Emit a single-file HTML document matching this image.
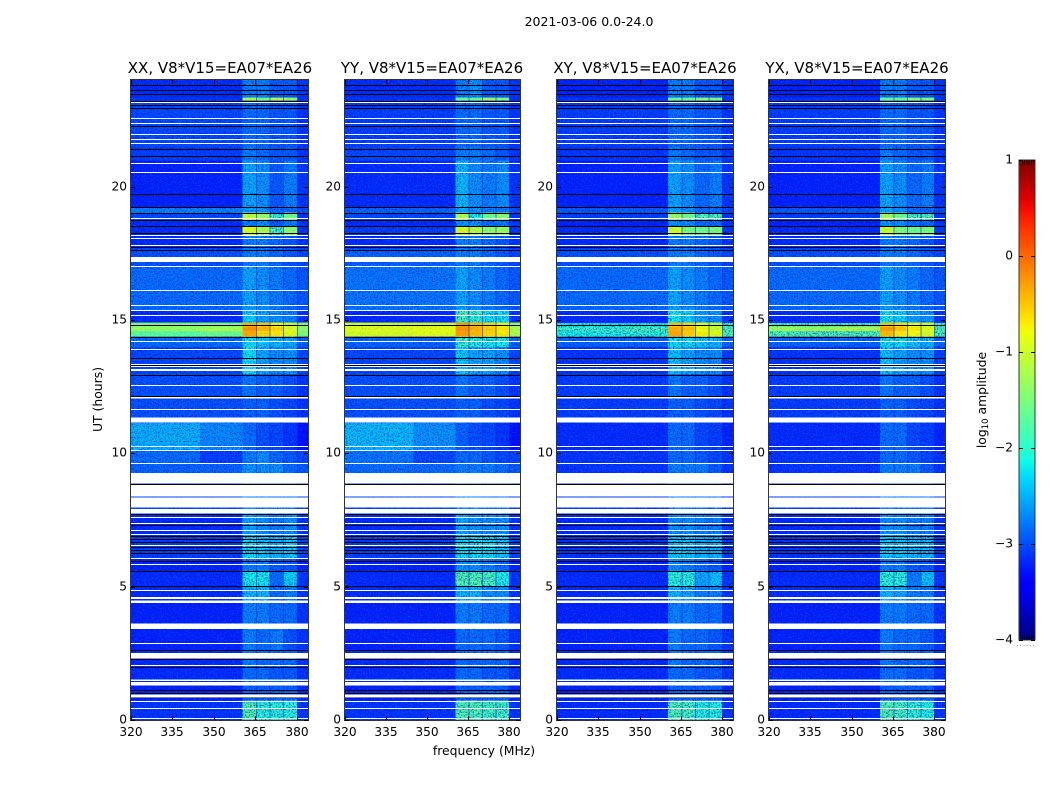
<!DOCTYPE html>
<html>
<head>
<meta charset="utf-8">
<title>2021-03-06 amplitude waterfall</title>
<style>
html,body{margin:0;padding:0;background:#fff;width:1050px;height:800px;overflow:hidden}
svg{display:block}
text{font-family:"DejaVu Sans","Liberation Sans",sans-serif;fill:#000}
</style>
</head>
<body>
<svg id="chart" width="1050" height="800" viewBox="0 0 1050 800" xmlns="http://www.w3.org/2000/svg" shape-rendering="crispEdges">
  <defs>
    <filter id="grain-light" x="0" y="0" width="100%" height="100%" color-interpolation-filters="sRGB">
      <feTurbulence type="fractalNoise" baseFrequency="0.75" numOctaves="1" seed="4"/>
      <feColorMatrix type="matrix" values="0 0 0 0 0  0 0 0 0 0.6  0 0 0 0 1  5 0 0 0 -2.7"/>
    </filter>
    <filter id="grain-dark" x="0" y="0" width="100%" height="100%" color-interpolation-filters="sRGB">
      <feTurbulence type="fractalNoise" baseFrequency="0.75" numOctaves="1" seed="11"/>
      <feColorMatrix type="matrix" values="0 0 0 0 0  0 0 0 0 0  0 0 0 0 0.8  5 0 0 0 -2.4"/>
    </filter>
    <linearGradient id="jet-gradient" x1="0" y1="1" x2="0" y2="0"></linearGradient>
  </defs>
  <text x="589" y="26" font-size="12.5" text-anchor="middle">2021-03-06 0.0-24.0</text>
  <text x="220" y="73" font-size="15" text-anchor="middle">XX, V8*V15=EA07*EA26</text>
  <text x="432" y="73" font-size="15" text-anchor="middle">YY, V8*V15=EA07*EA26</text>
  <text x="645" y="73" font-size="15" text-anchor="middle">XY, V8*V15=EA07*EA26</text>
  <text x="857" y="73" font-size="15" text-anchor="middle">YX, V8*V15=EA07*EA26</text>
  <text x="484" y="755" font-size="12.4" text-anchor="middle">frequency (MHz)</text>
  <text transform="translate(102,399.5) rotate(-90)" font-size="12.4" text-anchor="middle">UT (hours)</text>
  <text transform="translate(986,400) rotate(-90)" font-size="12.4" text-anchor="middle">log<tspan font-size="8.5" dy="2">10</tspan><tspan dy="-2"> amplitude</tspan></text>
  <g id="panels"></g>
  <g id="colorbar"></g>
</svg>
<script>
// ---- axis data ----
var freqTicks = [320, 335, 350, 365, 380];
var utTicks = [0, 5, 10, 15, 20];
var colorTicks = [1, 0, -1, -2, -3, -4];
var colorTickLabels = ['1', '0', '\u22121', '\u22122', '\u22123', '\u22124'];
// frequency columns (MHz) and UT rows (hours) of the coarse amplitude grid
var freqEdges = [320, 345, 360.4, 365.2, 370, 375, 380, 384];
var utEdges = [0,.75,1.3,2,2.6,3.4,4.4,5,5.6,6.1,6.9,7.7,9.26,9.65,10.14,11.16,12.1,13,14,14.4,14.6,14.75,14.9,15.4,17,17.7,18.18,18.53,18.74,19.03,19.24,21,21.5,23.25,23.35,24];
var channelGaps = [365.2, 370.1, 375, 380];
// flagged data (white) and very low samples (black), UT hours
var flagLines = [23.17,22.56,22.39,21.97,21.77,21.64,20.89,20.56,18.81,18.18,18.06,17.80,17.02,16.14,15.56,15.37,15.20,14.20,13.93,13.34,13.26,12.58,11.68,10.29,10.14,9.65,7.61,7.40,7.11,6.96,6.57,6.07,5.86,4.86,2.90,2.05,.73,.44,.08];
var flagBandStarts = [17.17,13.08,12.05,11.16,8.86,8.39,7.96,7.75,4.53,4.38,3.41,2.31,1.46,1.29,.84];
var flagBandEnds = [17.37,13.16,12.12,11.35,9.26,8.82,8.34,7.91,4.61,4.48,3.61,2.51,1.52,1.43,.95];
var lowLines = [23.83,23.62,23.46,23.21,23.06,22.95,22.28,21.40,21.14,19.73,19.24,19.03,18.74,18.53,18.25,17.73,17.62,15.18,14.80,14.36,13.59,13.30,12.95,12.15,8.84,7.93,7.74,7.71,7.30,6.89,6.77,6.67,6.47,6.36,6.25,5.98,5.58,5.01,2.61,2.30,1.98,1.11,1.01,.86];

// ---- series values: log10 amplitude, one row per UT interval, one entry per freq column ----
var heatXX = [
[-3.1,-3.1,-1.75,-2.0,-2.0,-2.0,-3.1],[-3.2,-3.2,-2.85,-2.85,-2.85,-2.85,-3.15],[-3.15,-3.15,-2.8,-2.8,-2.9,-2.9,-3.1],
[-3.15,-3.15,-2.7,-2.8,-2.8,-2.8,-3.1],[-3.2,-3.2,-2.7,-2.8,-2.7,-2.95,-3.1],[-3.2,-3.2,-2.7,-2.7,-2.8,-2.8,-3.1],
[-3.15,-3.15,-2.4,-2.4,-2.8,-2.7,-3.1],[-3.15,-3.15,-2.15,-2.15,-2.8,-2.25,-3.1],[-3.2,-3.2,-2.7,-2.7,-2.9,-2.9,-3.2],
[-3.05,-3.05,-2.2,-2.3,-2.4,-2.3,-3.0],[-3.15,-3.15,-2.5,-2.6,-2.7,-2.6,-3.1],[-3.0,-3.0,-2.6,-2.7,-2.7,-2.7,-3.0],
[-2.85,-2.85,-2.6,-2.6,-2.6,-2.8,-2.9],[-2.8,-3.05,-2.7,-2.6,-2.8,-2.9,-3.0],[-2.45,-2.65,-2.8,-2.95,-3.0,-3.1,-3.3],
[-2.95,-2.95,-2.85,-2.85,-2.95,-3.0,-3.1],[-2.95,-2.95,-2.75,-2.85,-2.85,-2.95,-3.1],[-3.0,-3.0,-2.2,-2.5,-2.6,-2.6,-3.0],
[-2.8,-2.8,-2.2,-2.3,-2.4,-2.5,-2.85],[-1.7,-1.6,-0.35,-0.6,-0.7,-0.9,-1.5],[-1.3,-1.2,-0.25,-0.45,-0.6,-0.9,-1.4],
[-1.5,-1.5,-0.4,-0.5,-0.75,-1.0,-1.4],[-3.15,-3.15,-2.25,-2.5,-2.6,-2.7,-3.1],[-2.8,-2.8,-2.5,-2.6,-2.7,-2.8,-2.9],
[-2.95,-2.95,-2.7,-2.7,-2.8,-2.9,-3.0],[-3.15,-3.15,-2.7,-2.7,-2.8,-2.9,-3.1],[-3.15,-3.15,-0.95,-1.2,-1.8,-1.4,-3.1],
[-3.15,-3.15,-2.7,-2.6,-2.9,-2.7,-3.1],[-3.0,-3.0,-1.1,-1.3,-1.9,-1.55,-3.1],[-2.7,-2.7,-2.5,-2.6,-2.8,-2.8,-2.95],
[-3.2,-3.2,-2.5,-2.6,-2.9,-2.7,-3.1],[-3.05,-3.05,-2.7,-2.8,-2.9,-2.9,-3.1],[-3.0,-3.0,-2.8,-2.8,-2.9,-2.9,-3.1],
[-3.1,-3.1,-1.2,-1.5,-1.1,-1.3,-3.1],[-3.15,-3.15,-2.7,-2.7,-2.9,-2.9,-3.1]];
var heatYY = [
[-3.1,-3.1,-1.75,-1.75,-1.85,-1.85,-3.1],[-3.2,-3.2,-2.85,-2.85,-2.85,-2.85,-3.15],[-3.15,-3.15,-2.8,-2.8,-2.9,-2.9,-3.1],
[-3.15,-3.15,-2.8,-2.8,-2.8,-2.8,-3.1],[-3.2,-3.2,-2.8,-2.8,-2.8,-2.9,-3.1],[-3.2,-3.2,-2.7,-2.7,-2.8,-2.8,-3.1],
[-3.15,-3.15,-2.4,-2.4,-2.6,-2.6,-3.1],[-3.15,-3.15,-1.75,-1.75,-1.8,-2.1,-3.1],[-3.2,-3.2,-2.6,-2.6,-2.7,-2.8,-3.2],
[-3.05,-3.05,-2.2,-2.2,-2.2,-2.3,-3.0],[-3.15,-3.15,-2.5,-2.6,-2.6,-2.6,-3.1],[-3.0,-3.0,-2.6,-2.6,-2.7,-2.7,-3.0],
[-2.8,-2.8,-2.7,-2.7,-2.7,-2.8,-2.9],[-2.75,-3.0,-2.8,-2.8,-2.9,-3.0,-3.0],[-2.4,-2.6,-2.85,-2.95,-3.0,-3.1,-3.3],
[-2.95,-2.95,-2.85,-2.85,-2.95,-3.0,-3.1],[-2.95,-2.95,-2.75,-2.85,-2.85,-2.95,-3.1],[-3.0,-3.0,-2.3,-2.5,-2.5,-2.6,-3.0],
[-2.85,-2.85,-1.9,-2.05,-2.15,-2.15,-2.85],[-0.95,-0.9,-0.3,-0.45,-0.6,-0.7,-1.2],[-0.9,-0.85,-0.25,-0.4,-0.55,-0.7,-1.2],
[-0.95,-0.95,-0.3,-0.45,-0.6,-0.75,-1.3],[-3.15,-3.15,-1.8,-1.95,-2.2,-2.2,-3.1],[-2.75,-2.75,-2.5,-2.6,-2.7,-2.8,-2.9],
[-2.85,-2.85,-2.7,-2.7,-2.8,-2.9,-3.0],[-3.15,-3.15,-2.7,-2.7,-2.8,-2.9,-3.1],[-3.05,-3.05,-0.95,-1.15,-1.4,-1.3,-3.1],
[-3.15,-3.15,-2.6,-2.6,-2.8,-2.7,-3.1],[-3.0,-3.0,-1.2,-2.1,-1.55,-1.4,-3.1],[-2.85,-2.85,-2.5,-2.6,-2.7,-2.7,-2.95],
[-3.15,-3.15,-2.4,-2.6,-2.7,-2.6,-3.1],[-3.0,-3.0,-2.7,-2.7,-2.8,-2.9,-3.1],[-3.05,-3.05,-2.8,-2.8,-2.9,-2.9,-3.1],
[-3.1,-3.1,-1.6,-1.6,-1.25,-1.45,-3.1],[-3.15,-3.15,-2.7,-2.6,-2.9,-2.9,-3.1]];
var heatXY = [
[-3.15,-3.15,-1.75,-1.8,-2.05,-2.05,-3.1],[-3.2,-3.2,-2.85,-2.85,-2.85,-2.85,-3.15],[-3.15,-3.15,-2.8,-2.8,-2.9,-2.9,-3.1],
[-3.15,-3.15,-2.7,-2.8,-2.8,-2.8,-3.1],[-3.2,-3.2,-2.7,-2.8,-2.8,-2.9,-3.1],[-3.2,-3.2,-2.7,-2.7,-2.8,-2.8,-3.1],
[-3.15,-3.15,-2.4,-2.5,-2.7,-2.7,-3.1],[-3.15,-3.15,-2.0,-2.0,-2.5,-2.35,-3.1],[-3.2,-3.2,-2.6,-2.7,-2.8,-2.9,-3.2],
[-3.1,-3.1,-2.3,-2.3,-2.4,-2.4,-3.05],[-3.15,-3.15,-2.6,-2.6,-2.7,-2.7,-3.1],[-3.05,-3.05,-2.6,-2.7,-2.7,-2.7,-3.05],
[-3.1,-3.1,-2.7,-2.7,-2.7,-2.9,-3.1],[-3.1,-3.1,-2.8,-2.8,-2.9,-3.0,-3.1],[-3.15,-3.15,-2.8,-2.8,-3.0,-3.05,-3.2],
[-3.05,-3.05,-2.85,-2.85,-2.95,-3.0,-3.1],[-3.05,-3.05,-2.75,-2.85,-2.85,-2.95,-3.1],[-3.1,-3.1,-2.35,-2.5,-2.6,-2.6,-3.05],
[-2.85,-2.85,-2.2,-2.2,-2.3,-2.4,-2.85],[-2.1,-2.0,-0.35,-0.55,-0.75,-0.9,-1.75],[-1.85,-1.75,-0.4,-0.5,-0.8,-1.0,-1.75],
[-2.15,-2.15,-0.5,-0.6,-0.9,-1.1,-1.9],[-3.15,-3.15,-2.15,-2.25,-2.5,-2.6,-3.1],[-2.8,-2.8,-2.5,-2.6,-2.7,-2.8,-2.9],
[-2.95,-2.95,-2.7,-2.7,-2.8,-2.9,-3.0],[-3.15,-3.15,-2.7,-2.7,-2.8,-2.9,-3.1],[-3.15,-3.15,-1.0,-1.5,-1.6,-1.5,-3.1],
[-3.2,-3.2,-2.6,-2.6,-2.8,-2.8,-3.1],[-3.05,-3.05,-1.3,-1.55,-1.75,-1.75,-3.1],[-2.9,-2.9,-2.5,-2.6,-2.8,-2.8,-3.0],
[-3.2,-3.2,-2.5,-2.6,-2.8,-2.7,-3.1],[-3.1,-3.1,-2.7,-2.8,-2.9,-2.9,-3.1],[-3.05,-3.05,-2.8,-2.8,-2.9,-2.9,-3.1],
[-3.1,-3.1,-1.6,-1.6,-1.35,-1.45,-3.1],[-3.2,-3.2,-2.7,-2.7,-2.9,-2.9,-3.1]];
var heatYX = [
[-3.15,-3.15,-1.75,-1.8,-1.95,-2.05,-3.1],[-3.2,-3.2,-2.85,-2.85,-2.85,-2.85,-3.15],[-3.15,-3.15,-2.8,-2.8,-2.9,-2.9,-3.1],
[-3.15,-3.15,-2.7,-2.8,-2.8,-2.8,-3.1],[-3.2,-3.2,-2.7,-2.8,-2.8,-2.9,-3.1],[-3.2,-3.2,-2.7,-2.7,-2.8,-2.8,-3.1],
[-3.15,-3.15,-2.4,-2.5,-2.7,-2.7,-3.1],[-3.15,-3.15,-2.0,-2.0,-2.7,-2.35,-3.1],[-3.2,-3.2,-2.7,-2.7,-2.9,-2.9,-3.2],
[-3.1,-3.1,-2.3,-2.3,-2.4,-2.4,-3.05],[-3.15,-3.15,-2.6,-2.6,-2.7,-2.7,-3.1],[-3.05,-3.05,-2.6,-2.7,-2.7,-2.7,-3.05],
[-3.1,-3.1,-2.7,-2.7,-2.7,-2.9,-3.1],[-3.1,-3.1,-2.8,-2.8,-2.9,-3.0,-3.1],[-3.15,-3.15,-2.8,-2.8,-3.0,-3.05,-3.2],
[-3.05,-3.05,-2.85,-2.85,-2.95,-3.0,-3.1],[-3.05,-3.05,-2.75,-2.85,-2.85,-2.95,-3.1],[-3.1,-3.1,-2.35,-2.5,-2.6,-2.6,-3.05],
[-2.85,-2.85,-2.2,-2.2,-2.3,-2.4,-2.85],[-1.75,-1.75,-0.45,-0.7,-0.8,-0.95,-1.8],[-1.3,-1.2,-0.3,-0.5,-0.7,-0.9,-1.75],
[-1.8,-1.8,-0.5,-0.65,-0.85,-1.0,-1.9],[-3.15,-3.15,-2.15,-2.25,-2.5,-2.6,-3.1],[-2.8,-2.8,-2.5,-2.6,-2.7,-2.8,-2.9],
[-2.95,-2.95,-2.7,-2.7,-2.8,-2.9,-3.0],[-3.15,-3.15,-2.7,-2.7,-2.8,-2.9,-3.1],[-3.15,-3.15,-1.05,-1.5,-1.6,-1.5,-3.1],
[-3.2,-3.2,-2.6,-2.6,-2.8,-2.8,-3.1],[-3.05,-3.05,-1.3,-1.55,-1.75,-1.75,-3.1],[-2.9,-2.9,-2.5,-2.6,-2.8,-2.8,-3.0],
[-3.2,-3.2,-2.5,-2.6,-2.8,-2.7,-3.1],[-3.1,-3.1,-2.7,-2.8,-2.9,-2.9,-3.1],[-3.05,-3.05,-2.8,-2.8,-2.9,-2.9,-3.1],
[-3.1,-3.1,-1.6,-1.6,-1.35,-1.45,-3.1],[-3.2,-3.2,-2.7,-2.7,-2.9,-2.9,-3.1]];

var panelKeys = ['xx', 'yy', 'xy', 'yx'];
var panelValues = [heatXX, heatYY, heatXY, heatYX];
var panelLefts = [131, 345, 557, 769];
var panelRights = [308, 520, 733, 945];

var SVGNS = 'http://www.w3.org/2000/svg';
function mk(tag, attrs, parent) {
  var el = document.createElementNS(SVGNS, tag);
  for (var k in attrs) el.setAttribute(k, attrs[k]);
  parent.appendChild(el);
  return el;
}

// ---- scales ----
var FREQ_MIN = 320, FREQ_MAX = 384, UT_MIN = 0, UT_MAX = 24;
var PLOT_TOP = 80, PLOT_BOTTOM = 720;
function yScale(ut) { return PLOT_BOTTOM - (ut - UT_MIN) / (UT_MAX - UT_MIN) * (PLOT_BOTTOM - PLOT_TOP); }
function xScaleFor(i) {
  return function (f) { return panelLefts[i] + (f - FREQ_MIN) / (FREQ_MAX - FREQ_MIN) * (panelRights[i] - panelLefts[i]); };
}

// ---- jet colour map ----
var COLOR_MIN = -4, COLOR_MAX = 1;
function ramp(t, pts) {
  if (t <= pts[0][0]) return pts[0][1];
  for (var i = 1; i < pts.length; i++) {
    if (t <= pts[i][0]) {
      var a = pts[i - 1], b = pts[i];
      return a[1] + (b[1] - a[1]) * (t - a[0]) / (b[0] - a[0]);
    }
  }
  return pts[pts.length - 1][1];
}
var jetRed = [[0, 0], [.35, 0], [.66, 1], [.89, 1], [1, .5]];
var jetGreen = [[0, 0], [.125, 0], [.375, 1], [.64, 1], [.91, 0], [1, 0]];
var jetBlue = [[0, .5], [.11, 1], [.34, 1], [.65, 0], [1, 0]];
function jet(v) {
  var t = Math.max(0, Math.min(1, (v - COLOR_MIN) / (COLOR_MAX - COLOR_MIN)));
  return 'rgb(' + Math.round(255 * ramp(t, jetRed)) + ',' + Math.round(255 * ramp(t, jetGreen)) + ',' + Math.round(255 * ramp(t, jetBlue)) + ')';
}

// ---- panels ----
var BRIGHT_LEVEL = -1.7;
var panelsRoot = document.getElementById('panels');
panelKeys.forEach(function (key, p) {
  var x = xScaleFor(p);
  var g = mk('g', {}, panelsRoot);
  
  
  var L = panelLefts[p], R = panelRights[p], W = R - L, H = PLOT_BOTTOM - PLOT_TOP;

  panelValues[p].forEach(function (row, r) {
    var y0 = yScale(utEdges[r + 1]), y1 = yScale(utEdges[r]);
    row.forEach(function (val, c) {
      var x0 = x(freqEdges[c]), x1 = x(freqEdges[c + 1]);
      var cell = mk('rect', { x: x0, y: y0, width: x1 - x0 + .5, height: y1 - y0 + .5, fill: jet(val) }, g);
      
      
    });
  });

  var g1 = mk('rect', { x: L, y: PLOT_TOP, width: W, height: H, filter: 'url(#grain-light)', opacity: .4 }, g);
  
  
  var g2 = mk('rect', { x: L, y: PLOT_TOP, width: W, height: H, filter: 'url(#grain-dark)', opacity: .6 }, g);
  
  

  // bright cells stay vivid above the noise texture
  panelValues[p].forEach(function (row, r) {
    var y0 = yScale(utEdges[r + 1]), y1 = yScale(utEdges[r]);
    row.forEach(function (val, c) {
      if (val < BRIGHT_LEVEL) return;
      var x0 = x(freqEdges[c]), x1 = x(freqEdges[c + 1]);
      var over = mk('rect', { x: x0, y: y0, width: x1 - x0 + .5, height: y1 - y0 + .5, fill: jet(val), opacity: .8 }, g);
      
      
    });
  });

  channelGaps.forEach(function (f) {
    var gap = mk('rect', { x: x(f), y: PLOT_TOP, width: 1, height: H, fill: '#0a30d0', opacity: .6 }, g);
    
    
  });

  lowLines.forEach(function (u) {
    var line = mk('rect', { x: L, y: Math.round(yScale(u)), width: W, height: 1, fill: '#000' }, g);
    
    
  });
  flagLines.forEach(function (u) {
    var line = mk('rect', { x: L, y: Math.round(yScale(u)), width: W, height: 1, fill: '#fff' }, g);
    
    
  });
  flagBandStarts.forEach(function (u, i) {
    var top = yScale(flagBandEnds[i]), bot = yScale(u);
    var band = mk('rect', { x: L, y: top, width: W, height: bot - top, fill: '#fff' }, g);
    
    
  });

  var frame = mk('rect', { x: L - .5, y: PLOT_TOP - .5, width: W + 1, height: H + 1, fill: 'none', stroke: '#333', 'stroke-width': 1.4 }, g);
  
  

  freqTicks.forEach(function (f) {
    var px = Math.round(x(f));
    var tb = mk('rect', { x: px, y: PLOT_BOTTOM - 4, width: 1, height: 4, fill: '#000' }, g);
    
    
    var tt = mk('rect', { x: px, y: PLOT_TOP, width: 1, height: 4, fill: '#000' }, g);
    
    
    var lab = mk('text', { x: px, y: 736, 'font-size': 12.2, 'text-anchor': 'middle' }, g);
    lab.textContent = String(f);
    
    
  });
  utTicks.forEach(function (u) {
    var py = Math.round(yScale(u));
    var tl = mk('rect', { x: L, y: py, width: 4, height: 1, fill: '#000' }, g);
    
    
    var tr = mk('rect', { x: R - 4, y: py, width: 4, height: 1, fill: '#000' }, g);
    
    
    var lab = mk('text', { x: L - 4, y: py + 3.5, 'font-size': 12.2, 'text-anchor': 'end' }, g);
    lab.textContent = String(u);
    
    
  });
});

// ---- colour bar ----
var CB_LEFT = 1019, CB_RIGHT = 1035, CB_TOP = 160, CB_BOTTOM = 640;
function cbScale(v) { return CB_BOTTOM - (v - COLOR_MIN) / (COLOR_MAX - COLOR_MIN) * (CB_BOTTOM - CB_TOP); }
var grad = document.getElementById('jet-gradient');
for (var s = 0; s <= 50; s++) {
  mk('stop', { offset: (s / 50), 'stop-color': jet(COLOR_MIN + (COLOR_MAX - COLOR_MIN) * s / 50) }, grad);
}
var cbRoot = document.getElementById('colorbar');
var cbRect = mk('rect', { x: CB_LEFT, y: CB_TOP, width: CB_RIGHT - CB_LEFT, height: CB_BOTTOM - CB_TOP, fill: 'url(#jet-gradient)', stroke: '#333', 'stroke-width': 1.4 }, cbRoot);


colorTicks.forEach(function (v, i) {
  var py = Math.round(cbScale(v));
  var t1 = mk('rect', { x: CB_LEFT, y: py, width: 4, height: 1, fill: '#000' }, cbRoot);
  
  
  var t2 = mk('rect', { x: CB_RIGHT - 4, y: py, width: 4, height: 1, fill: '#000' }, cbRoot);
  
  
  var lab = mk('text', { x: CB_LEFT - 6, y: py + 3.5, 'font-size': 12.2, 'text-anchor': 'end' }, cbRoot);
  lab.textContent = colorTickLabels[i];
  
  
});
[0, 1, 2, 3, 4, 5].forEach(function (k) {
  var px = CB_LEFT + 3 + k * 2.2;
  var top = mk('rect', { x: px, y: CB_TOP, width: 1, height: 5, fill: '#000', opacity: .7 }, cbRoot);
  
  
  var bottom = mk('rect', { x: px, y: CB_BOTTOM - 5, width: 1, height: 5, fill: '#000', opacity: .7 }, cbRoot);
  
  
  var dot = mk('rect', { x: CB_LEFT - 2 + k * 3.2, y: CB_BOTTOM + 5, width: 1, height: 1, fill: '#999' }, cbRoot);
  
  
});
</script>
</body>
</html>
